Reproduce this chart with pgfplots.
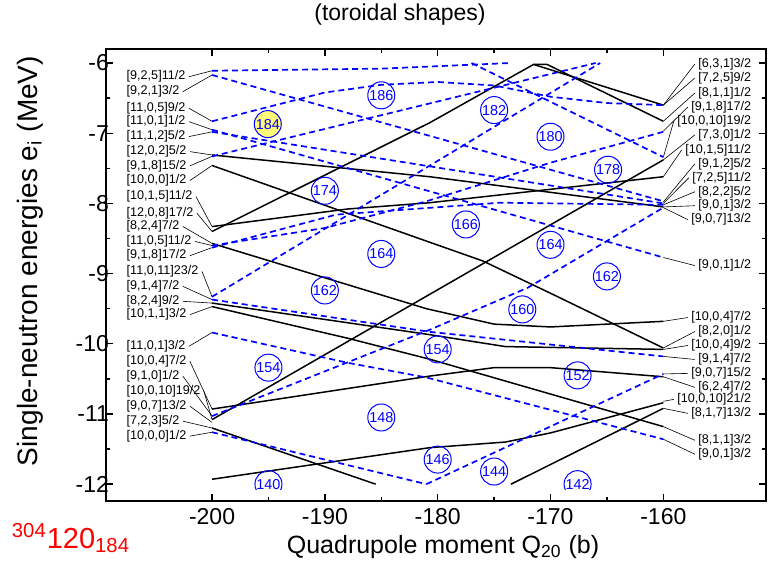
\documentclass[border=0pt]{standalone}
\usepackage{pgfplots}
\pgfplotsset{compat=1.18}
\usepackage{fontspec}
\setmainfont{Liberation Sans}
\newcommand{\LL}[4]{\node[lab, anchor=west] (#1) at (axis cs:-207.74,#3) {#2};
 \draw[leader] ([xshift=0.8pt]#1.east) -- (axis cs:-200,#4);}
\newcommand{\RL}[4]{\node[lab, anchor=east] (#1) at (axis cs:-152.05,#3) {#2};
 \draw[leader] ([xshift=-0.8pt]#1.west) -- (axis cs:-160,#4);}
\begin{document}
\begin{tikzpicture}[
  lab/.style={font=\fontsize{6.3}{7}\selectfont, inner sep=0.8pt},
  leader/.style={line width=0.3pt, black},
  ring/.style={circle, draw=blue, line width=0.5pt, text=blue, minimum size=13.5pt, inner sep=0pt, font=\fontsize{7.2}{8}\selectfont},
]
\useasboundingbox (-53pt,-34.5pt) rectangle (333.5pt,250.5pt);
\begin{axis}[
  at={(0,0)}, anchor=south west, scale only axis, width=330pt, height=226pt,
  xmin=-209.4, xmax=-150.9, ymin=-12.24, ymax=-5.8,
  xtick={-200,-190,-180,-170,-160}, xticklabels={-200,-190,-180,-170,-160},
  minor xtick={-195,-185,-175,-165},
  ytick={-12,-11,-10,-9,-8,-7,-6}, yticklabels={-12,-11,-10,-9,-8,-7,-6},
  minor ytick={-11.5,-10.5,-9.5,-8.5,-7.5,-6.5},
  tick align=inside, major tick length=3.5pt, minor tick length=2pt,
  axis line style={line width=0.9pt}, tick style={line width=0.7pt, black},
  ticklabel style={font=\fontsize{11.5}{13}\selectfont},
  yticklabel style={xshift=5pt},
  blk/.style={black, line width=0.75pt, no marks},
  blu/.style={blue, line width=0.85pt, dash pattern=on 3pt off 2pt, no marks},
]
% ---- black (solid) levels
\addplot[blk] coordinates {(-200,-7.31) (-180.7,-7.62) (-160,-8.05)};
\addplot[blk] coordinates {(-200,-7.46) (-176,-8.82) (-170,-9.28) (-160,-10.06)};
\addplot[blk] coordinates {(-200,-8.33) (-188,-8.08) (-180.7,-7.99) (-160,-7.62)};
\addplot[blk] coordinates {(-200,-8.40) (-180.7,-6.85) (-171.5,-6.02) (-170.3,-6.02)};
\addplot[blk] coordinates {(-171.5,-6.02) (-160,-6.6)};
\addplot[blk] coordinates {(-170.3,-6.02) (-160,-6.83)};
\addplot[blk] coordinates {(-200,-8.57) (-181,-9.5) (-175,-9.72) (-170,-9.76) (-165,-9.72) (-160,-9.68)};
\addplot[blk] coordinates {(-200,-9.42) (-180.7,-9.87) (-174,-10.04) (-160,-10.08)};
\addplot[blk] coordinates {(-200,-9.47) (-188,-9.92) (-180.7,-10.22) (-160,-11.18)};
\addplot[blk] coordinates {(-200,-10.93) (-180.7,-10.46) (-175,-10.34) (-170,-10.34) (-160,-10.47)};
\addplot[blk] coordinates {(-200,-11.08) (-160,-7.38)};
\addplot[blk] coordinates {(-200,-11.2) (-185.5,-12.0)};
\addplot[blk] coordinates {(-200,-11.93) (-180.7,-11.48) (-174,-11.4) (-170,-11.27) (-160,-10.84)};
\addplot[blk] coordinates {(-173.5,-12.0) (-160,-10.92)};
% ---- blue (dashed) levels
\addplot[blu] coordinates {(-200,-6.11) (-185,-6.08) (-173.6,-6.0)};
\addplot[blu] coordinates {(-200,-6.17) (-160,-7.97)};
\addplot[blu] coordinates {(-200,-6.83) (-190,-6.42) (-185,-6.31) (-180,-6.27) (-175,-6.32) (-170,-6.48) (-165,-6.57) (-160,-6.6)};
\addplot[blu] coordinates {(-200,-6.95) (-160,-8.77)};
\addplot[blu] coordinates {(-200,-6.98) (-160,-8.0)};
\addplot[blu] coordinates {(-200,-7.33) (-166,-6.0)};
\addplot[blu] coordinates {(-177,-6.0) (-160,-7.34)};
\addplot[blu] coordinates {(-200,-8.60) (-190,-8.35) (-181,-7.97) (-170,-7.42) (-160,-6.98)};
\addplot[blu] coordinates {(-200,-8.63) (-189,-8.16) (-174.5,-7.99) (-160,-8.02)};
\addplot[blu] coordinates {(-200,-9.33) (-165.6,-6.0)};
\addplot[blu] coordinates {(-200,-9.37) (-180.7,-9.83) (-160,-10.18)};
\addplot[blu] coordinates {(-200,-9.84) (-188,-10.27) (-181,-10.48) (-160,-11.36)};
\addplot[blu] coordinates {(-200,-11.03) (-180.7,-9.8) (-172,-9.2) (-160,-8.06)};
\addplot[blu] coordinates {(-200,-11.26) (-181,-12.0)};
\addplot[blu] coordinates {(-181,-12.0) (-160,-10.43)};
% ---- circled shell gaps
\node[ring, fill={rgb,255:red,255;green,250;blue,120}] at (axis cs:-195.06,-6.87) {184};
\node[ring] at (axis cs:-185,-6.46) {186};
\node[ring] at (axis cs:-175,-6.67) {182};
\node[ring] at (axis cs:-170,-7.05) {180};
\node[ring] at (axis cs:-164.9,-7.52) {178};
\node[ring] at (axis cs:-190,-7.82) {174};
\node[ring] at (axis cs:-177.5,-8.30) {166};
\node[ring] at (axis cs:-185,-8.72) {164};
\node[ring] at (axis cs:-170,-8.59) {164};
\node[ring] at (axis cs:-190,-9.24) {162};
\node[ring] at (axis cs:-165,-9.04) {162};
\node[ring] at (axis cs:-172.5,-9.51) {160};
\node[ring] at (axis cs:-195,-10.34) {154};
\node[ring] at (axis cs:-180,-10.08) {154};
\node[ring] at (axis cs:-167.6,-10.45) {152};
\node[ring] at (axis cs:-185,-11.05) {148};
\node[ring] at (axis cs:-180,-11.65) {146};
\node[ring] at (axis cs:-175,-11.82) {144};
\begin{scope}
\clip (axis cs:-210,-12.07) rectangle (axis cs:-150,-5.8);
\node[ring] at (axis cs:-167.6,-12.0) {142};
\node[ring] at (axis cs:-195,-12.0) {140};
\end{scope}
% ---- left labels
\LL{a1}{[9,2,5]11/2}{-6.195}{-6.11}
\LL{a2}{[9,2,1]3/2}{-6.408}{-6.17}
\LL{a3}{[11,0,5]9/2}{-6.644}{-6.83}
\LL{a4}{[11,0,1]1/2}{-6.835}{-6.95}
\LL{a5}{[11,1,2]5/2}{-7.048}{-6.98}
\LL{a6}{[12,0,2]5/2}{-7.262}{-7.31}
\LL{a7}{[9,1,8]15/2}{-7.465}{-7.33}
\LL{a8}{[10,0,0]1/2}{-7.674}{-7.46}
\LL{a9}{[10,1,5]11/2}{-7.902}{-8.33}
\LL{a10}{[12,0,8]17/2}{-8.138}{-8.40}
\LL{a11}{[8,2,4]7/2}{-8.329}{-8.57}
\LL{a12}{[11,0,5]11/2}{-8.542}{-8.60}
\LL{a13}{[9,1,8]17/2}{-8.745}{-8.63}
\LL{a14}{[11,0,11]23/2}{-8.969}{-9.33}
\LL{a15}{[9,1,4]7/2}{-9.182}{-9.37}
\LL{a16}{[8,2,4]9/2}{-9.395}{-9.42}
\LL{a17}{[10,1,1]3/2}{-9.585}{-9.47}
\LL{a18}{[11,0,1]3/2}{-10.036}{-9.84}
\LL{a19}{[10,0,4]7/2}{-10.249}{-10.93}
\LL{a20}{[9,1,0]1/2}{-10.462}{-11.03}
\LL{a21}{[10,0,10]19/2}{-10.676}{-11.08}
\LL{a22}{[9,0,7]13/2}{-10.889}{-11.12}
\LL{a23}{[7,2,3]5/2}{-11.102}{-11.2}
\LL{a24}{[10,0,0]1/2}{-11.316}{-11.26}
% ---- right labels
\RL{b1}{[6,3,1]3/2}{-6.014}{-6.6}
\RL{b2}{[7,2,5]9/2}{-6.213}{-6.6}
\RL{b3}{[8,1,1]1/2}{-6.427}{-6.83}
\RL{b4}{[9,1,8]17/2}{-6.626}{-6.97}
\RL{b5}{[10,0,10]19/2}{-6.825}{-7.34}
\RL{b6}{[7,3,0]1/2}{-7.024}{-7.38}
\RL{b7}{[10,1,5]11/2}{-7.237}{-7.62}
\RL{b8}{[9,1,2]5/2}{-7.436}{-7.98}
\RL{b9}{[7,2,5]11/2}{-7.635}{-8.0}
\RL{b10}{[8,2,2]5/2}{-7.834}{-8.02}
\RL{b11}{[9,0,1]3/2}{-8.033}{-8.05}
\RL{b12}{[9,0,7]13/2}{-8.232}{-8.06}
\RL{b13}{[9,0,1]1/2}{-8.886}{-8.77}
\RL{b14}{[10,0,4]7/2}{-9.626}{-9.68}
\RL{b15}{[8,2,0]1/2}{-9.825}{-10.06}
\RL{b16}{[10,0,4]9/2}{-10.024}{-10.08}
\RL{b17}{[9,1,4]7/2}{-10.223}{-10.18}
\RL{b18}{[9,0,7]15/2}{-10.422}{-10.43}
\RL{b19}{[6,2,4]7/2}{-10.621}{-10.47}
\RL{b20}{[10,0,10]21/2}{-10.792}{-10.82}
\RL{b21}{[8,1,7]13/2}{-10.991}{-10.92}
\RL{b22}{[8,1,1]3/2}{-11.375}{-11.18}
\RL{b23}{[9,0,1]3/2}{-11.574}{-11.36}
\end{axis}
\node[font=\fontsize{11.5}{13}\selectfont] at (147pt,243pt) {(toroidal shapes)};
\node[font=\fontsize{12.5}{14}\selectfont] at (168.5pt,-23pt) {Quadrupole moment Q\textsubscript{20} (b)};
\node[font=\fontsize{14}{16}\selectfont, rotate=90] at (-38pt,120pt) {Single-neutron energies e\textsubscript{i} (MeV)};
\node[font=\fontsize{14.5}{16}\selectfont, text=red] at (-17.5pt,-18.5pt) {\textsuperscript{304}120\textsubscript{184}};
\end{tikzpicture}
\end{document}
